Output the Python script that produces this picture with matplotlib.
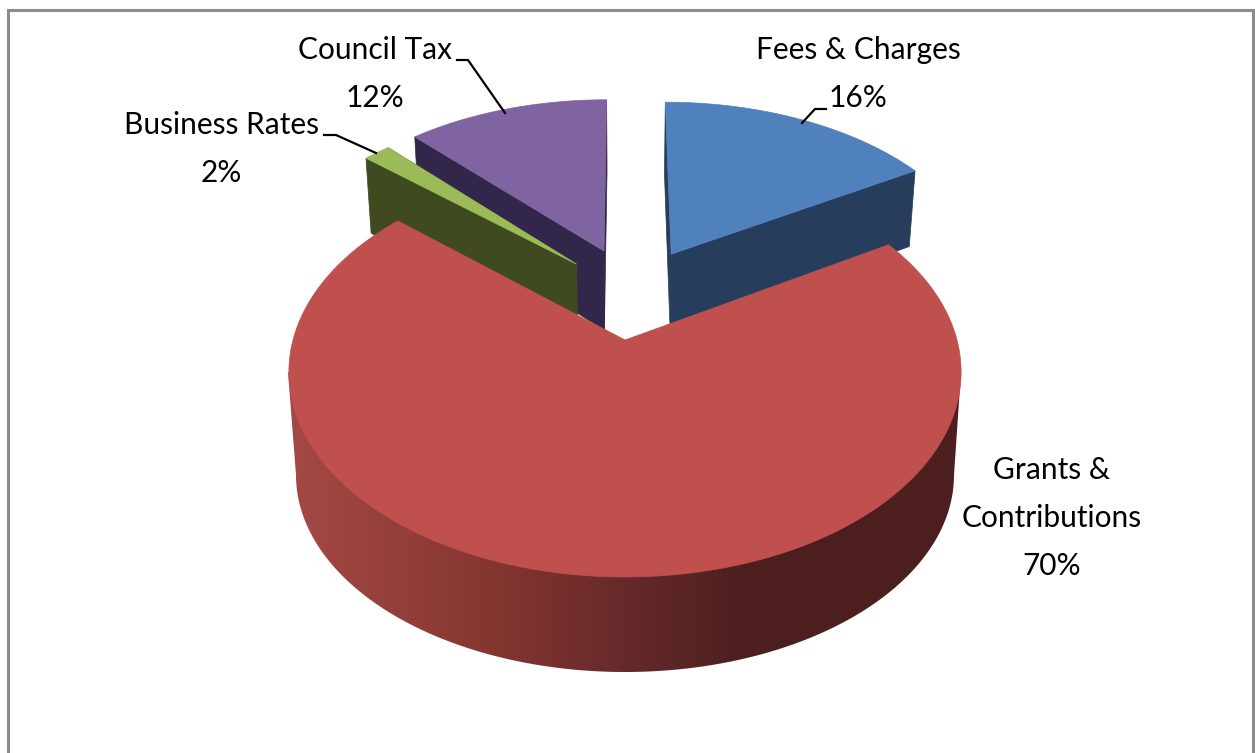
import numpy as np
import matplotlib
matplotlib.use("Agg")
import matplotlib.pyplot as plt
from matplotlib.patches import Polygon
from matplotlib.colors import to_rgb

# order is clockwise from 12 o'clock, same as the original pie
labels = ["Fees & Charges", "Grants &\nContributions", "Business Rates", "Council Tax"]
shares = [16.4, 70.0, 1.6, 12.0]  # labels round these
top_colors = ["#4f81bd", "#c0504d", "#9bbb59", "#8064a2"]
side_colors = ["#263d5b", "#4c1f1e", "#3f4a21", "#32274a"]

# how far each slice is pulled out, in disc units (right, away from viewer)
explode_u = [0.149, 0.0, -0.155, -0.068]
explode_v = [0.460, 0.0, 0.403, 0.478]

# perspective of the disc
CX, CY = 625, 340
F, B, A = 332, 200, 0.156
SHRINK = 0.98

# lower rim of the big slice
RIM_CY, RIM_RX, RIM_RY = 475, 329, 197

# gradient on the rim, by pixel x
grad_x = [288, 500, 620, 745, 961]
grad_c = ["#a54946", "#83352f", "#672a2a", "#4c1f1e", "#4c1f1e"]

fig = plt.figure(figsize=(12.55, 7.53), dpi=100)
ax = fig.add_axes([0, 0, 1, 1])


def project(u, v):
    d = 1 + A * v
    return CX + F * u / d, CY - B * v / d


def drop(u, v):
    # same point on the underside of the slice
    x, y = project(u, v)
    w = v / (1 + A * v)
    return CX + (x - CX) * SHRINK, y + 78 + (0.6 - w) * 9.5


fractions = np.array(shares) / sum(shares)
ends = np.cumsum(fractions) * 2 * np.pi
starts = ends - fractions * 2 * np.pi


def top_face(i):
    t = np.linspace(starts[i], ends[i], 200)
    u = np.r_[0, np.sin(t)] + explode_u[i]
    v = np.r_[0, np.cos(t)] + explode_v[i]
    return np.column_stack(project(u, v))


def radial_panel(i, angle):
    u = np.array([0, np.sin(angle)]) + explode_u[i]
    v = np.array([0, np.cos(angle)]) + explode_v[i]
    upper = np.column_stack(project(u, v))
    lower = np.column_stack(drop(u, v))
    return np.vstack([upper, lower[::-1]])


# exploded slices first, back to front, the big one goes over them
for i in [0, 3, 2]:
    for angle in [starts[i], ends[i]]:
        ax.add_patch(Polygon(radial_panel(i, angle), fc=side_colors[i], ec=side_colors[i], lw=0.5))
    ax.add_patch(Polygon(top_face(i), fc=top_colors[i], ec=top_colors[i], lw=0.5))

# rim of grants slice with the horizontal gradient
xs = np.arange(288, 962)
rgb = np.array([np.interp(xs, grad_x, [to_rgb(c)[k] for c in grad_c]) for k in range(3)]).T
phi = np.linspace(np.pi, 0, 300)
rim = np.column_stack([CX + RIM_RX * np.cos(phi), RIM_CY + RIM_RY * np.sin(phi)])
outline = np.vstack([[CX - 337, 372], rim, [CX + 336, 372]])
clip = Polygon(outline, transform=ax.transData, fc="none", ec="none")
ax.add_patch(clip)
im = ax.imshow(rgb[np.newaxis, :, :], extent=[288, 962, 680, 360], aspect="auto", interpolation="bilinear")
im.set_clip_path(clip)

ax.add_patch(Polygon(top_face(1), fc=top_colors[1], ec=top_colors[1], lw=0.5))

# labels
label_x = [858, 1052, 221, 375]
label_y = [50, 470, 125, 50]
LINE = 48
for i, name in enumerate(labels):
    lines = name.split("\n") + [f"{round(shares[i])}%"]
    for k, line in enumerate(lines):
        ax.text(label_x[i], label_y[i] + k * LINE, line, ha="center", va="center",
                fontsize=21.5, family="Lato", color="black")

# leader lines
leaders = [
    ([826, 815, 802], [109, 109, 123]),
    ([457, 468, 505], [60, 60, 113]),
    ([324, 336, 376], [135, 135, 153]),
]
for lx, ly in leaders:
    ax.plot(lx, ly, color="black", lw=1.6, solid_joinstyle="miter")

# chart frame, no bottom edge in the screenshot
ax.plot([8, 8, 1253, 1253], [753, 9.5, 9.5, 753], color="#8c8c8c", lw=2.2, solid_joinstyle="miter")

ax.set_xlim(0, 1255)
ax.set_ylim(753, 0)
ax.axis("off")
fig.savefig("out.png", dpi=100, facecolor="white")
